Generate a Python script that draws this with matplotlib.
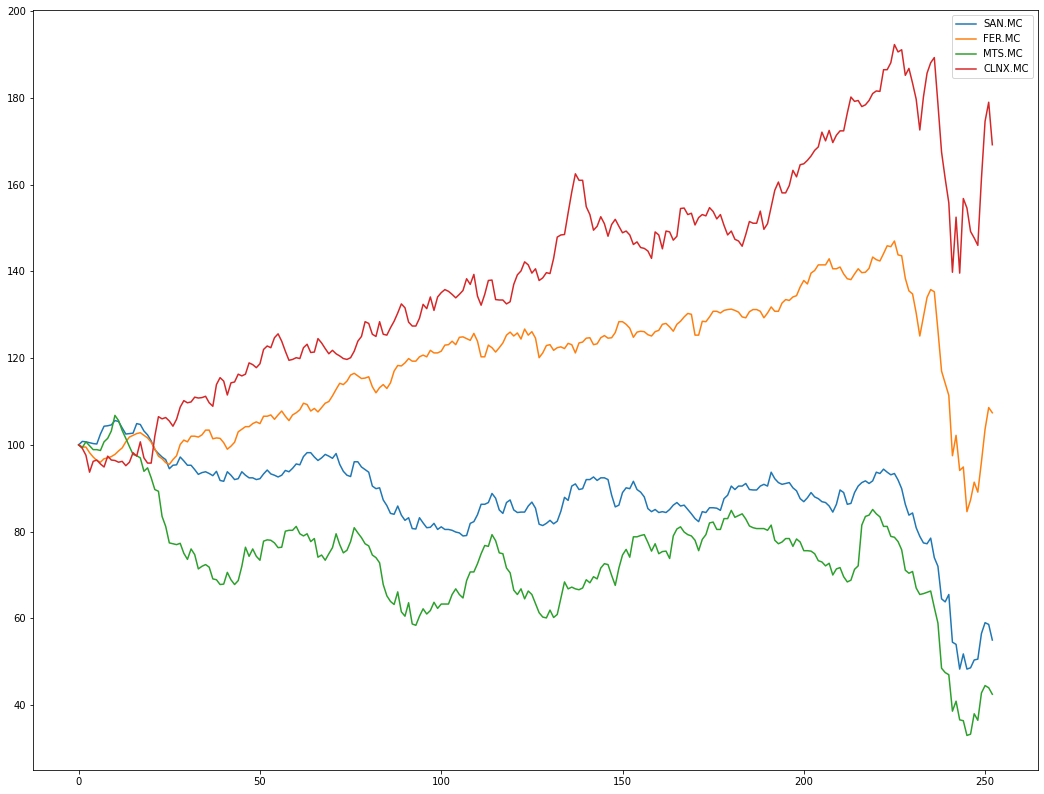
import numpy as np
import matplotlib
matplotlib.use("Agg")
import matplotlib.pyplot as plt

# =========================
# Data (normalised prices, base 100)
# =========================
san = [
    100.0, 100.8, 100.7, 100.5, 100.3, 100.2, 102.5, 104.3, 104.4, 104.6,
    105.6, 105.4, 103.9, 102.5, 102.6, 102.7, 104.9, 104.7, 103.2, 102.3,
    100.9, 98.9, 98.0, 97.2, 96.6, 94.5, 95.3, 95.4, 97.2, 96.3,
    95.3, 95.3, 94.3, 93.2, 93.6, 93.8, 93.4, 92.9, 93.9, 91.8,
    91.6, 93.8, 93.0, 92.0, 92.2, 93.8, 93.0, 92.4, 92.4, 92.0,
    92.2, 93.3, 94.2, 93.3, 93.0, 92.6, 93.0, 94.1, 93.8, 94.6,
    95.6, 95.4, 97.3, 98.2, 98.2, 97.2, 96.4, 97.0, 97.8, 97.4,
    96.9, 98.0, 95.5, 93.9, 93.0, 92.7, 96.1, 96.1, 94.9, 94.3,
    93.7, 90.5, 89.9, 90.1, 87.3, 86.0, 84.2, 84.0, 85.9, 83.8,
    82.6, 83.2, 80.7, 80.6, 83.2, 82.0, 80.9, 81.0, 81.9, 80.5,
    81.1, 80.5, 80.5, 80.3, 79.9, 79.7, 79.0, 79.1, 81.9, 82.3,
    83.9, 86.3, 86.3, 86.7, 88.8, 87.7, 85.0, 84.2, 86.7, 87.3,
    85.0, 84.4, 84.5, 84.5, 85.9, 86.8, 85.4, 81.7, 81.4, 81.9,
    82.6, 81.8, 82.4, 84.7, 87.9, 87.2, 90.5, 91.0, 89.7, 89.9,
    92.0, 92.0, 92.6, 91.8, 92.4, 92.4, 92.0, 88.4, 85.7, 86.1,
    89.0, 90.1, 89.9, 91.6, 89.7, 89.1, 88.0, 85.3, 84.6, 85.1,
    84.4, 84.6, 84.4, 85.1, 86.1, 86.7, 85.9, 86.1, 85.1, 84.1,
    83.0, 82.3, 84.6, 84.4, 85.5, 85.5, 85.4, 84.9, 87.6, 88.4,
    90.5, 89.7, 90.5, 90.5, 91.1, 89.7, 89.6, 89.6, 90.5, 90.9,
    90.5, 93.7, 92.2, 91.3, 90.9, 91.1, 91.3, 90.1, 89.4, 87.6,
    86.9, 87.8, 89.0, 88.0, 87.6, 86.9, 86.7, 85.9, 84.5, 86.3,
    89.6, 89.0, 86.3, 86.5, 89.0, 90.5, 91.3, 91.7, 91.1, 91.7,
    93.7, 93.4, 94.4, 93.7, 93.1, 93.4, 91.9, 89.9, 86.3, 83.8,
    84.3, 80.9, 78.9, 77.4, 77.2, 78.5, 74.0, 72.0, 64.5, 63.8,
    65.5, 54.5, 54.0, 48.3, 51.8, 48.3, 48.6, 50.4, 50.6, 56.5,
    59.0, 58.6, 55.0,
]

fer = [
    100.0, 99.5, 99.5, 98.2, 97.2, 96.4, 96.0, 96.8, 97.0, 97.3,
    97.8, 98.6, 99.3, 100.7, 101.8, 102.2, 102.6, 102.8, 102.2, 101.6,
    100.6, 99.1, 97.4, 96.8, 95.9, 95.5, 96.6, 97.5, 100.1, 101.1,
    100.7, 102.0, 102.0, 101.8, 102.3, 103.4, 103.4, 101.4, 101.6, 101.5,
    100.5, 99.0, 99.7, 100.6, 103.0, 103.6, 104.2, 104.2, 104.9, 105.3,
    104.9, 106.6, 106.6, 106.9, 105.9, 106.9, 107.8, 106.6, 105.6, 106.9,
    107.4, 108.1, 109.6, 109.3, 107.8, 108.4, 107.6, 108.6, 109.6, 110.0,
    111.3, 112.8, 114.2, 113.9, 114.7, 116.1, 116.5, 115.9, 115.3, 115.4,
    115.7, 113.4, 112.0, 113.2, 113.9, 113.0, 114.3, 117.0, 118.3, 118.2,
    118.9, 119.9, 119.3, 119.3, 120.3, 120.7, 120.3, 121.8, 121.2, 121.2,
    121.6, 123.0, 123.1, 123.9, 123.1, 124.8, 124.9, 124.5, 124.1, 125.7,
    123.9, 120.3, 120.3, 123.0, 122.4, 121.4, 122.4, 123.5, 125.3, 126.0,
    125.1, 125.8, 124.4, 126.7, 125.3, 126.1, 124.6, 120.1, 121.2, 122.9,
    123.1, 121.8, 122.4, 122.6, 122.2, 123.4, 123.1, 121.2, 123.5, 123.7,
    124.6, 124.7, 123.1, 123.3, 124.7, 125.2, 124.6, 124.7, 125.9, 128.4,
    128.4, 127.8, 126.9, 124.8, 126.0, 126.2, 126.1, 125.4, 125.1, 126.1,
    126.4, 127.8, 128.0, 127.2, 126.2, 127.8, 128.5, 129.5, 130.3, 130.1,
    125.3, 125.3, 128.5, 128.4, 129.5, 130.8, 130.8, 130.4, 131.0, 131.2,
    131.3, 131.0, 130.6, 129.5, 129.3, 130.7, 131.2, 131.2, 130.8, 129.3,
    130.4, 131.8, 130.8, 130.8, 132.7, 133.5, 133.3, 134.1, 134.4, 136.4,
    137.9, 137.1, 139.6, 140.2, 141.5, 141.5, 141.5, 142.9, 140.6, 140.6,
    141.0, 139.4, 138.3, 138.1, 139.4, 140.6, 139.7, 139.8, 140.7, 143.3,
    142.7, 142.4, 144.1, 145.9, 145.7, 147.0, 143.8, 143.6, 138.4, 135.5,
    134.8, 130.4, 125.1, 129.6, 134.0, 135.8, 135.3, 126.4, 117.0, 114.2,
    111.4, 97.5, 102.2, 94.1, 94.9, 84.6, 87.3, 91.4, 89.1, 96.1,
    103.6, 108.6, 107.4,
]

mts = [
    100.0, 99.4, 100.7, 99.8, 98.9, 98.9, 98.7, 100.7, 101.5, 103.2,
    106.8, 105.6, 103.3, 101.5, 99.6, 97.8, 97.5, 97.0, 93.9, 94.7,
    92.4, 89.7, 89.3, 83.5, 81.2, 77.4, 77.2, 77.0, 77.3, 75.0,
    73.6, 76.0, 74.7, 71.4, 72.0, 72.4, 71.8, 69.1, 68.9, 67.8,
    67.9, 70.6, 68.9, 67.8, 68.7, 72.0, 76.4, 74.3, 76.0, 74.3,
    73.4, 77.8, 78.1, 78.0, 77.4, 76.3, 76.4, 80.1, 80.3, 80.3,
    81.2, 79.5, 79.0, 79.5, 77.7, 78.4, 74.1, 74.6, 73.4, 74.9,
    76.3, 79.5, 77.0, 75.1, 75.7, 77.7, 80.9, 79.7, 78.6, 77.2,
    76.7, 74.6, 74.0, 72.8, 67.8, 65.2, 63.9, 63.2, 66.1, 61.5,
    60.5, 63.6, 58.7, 58.4, 60.5, 62.2, 61.0, 61.8, 63.7, 62.3,
    63.3, 63.3, 63.3, 65.5, 66.8, 65.5, 64.7, 68.7, 70.7, 70.7,
    72.6, 74.9, 76.8, 76.6, 79.3, 77.9, 75.1, 74.9, 71.6, 70.5,
    66.5, 65.5, 66.8, 64.5, 66.3, 65.5, 63.4, 61.3, 60.3, 60.1,
    61.9, 60.2, 60.9, 64.7, 68.4, 66.8, 67.2, 66.8, 66.6, 67.0,
    68.9, 68.2, 69.6, 69.1, 71.6, 72.6, 72.4, 69.9, 67.6, 71.6,
    74.6, 75.9, 74.1, 78.8, 78.8, 79.1, 79.3, 77.5, 75.5, 77.2,
    74.9, 75.4, 75.5, 73.8, 79.0, 80.6, 81.1, 79.9, 79.3, 79.0,
    78.0, 75.6, 78.2, 79.3, 82.0, 82.2, 80.5, 80.5, 83.0, 83.0,
    84.9, 83.3, 83.7, 84.1, 82.9, 81.3, 80.9, 80.7, 80.7, 80.7,
    80.3, 81.5, 78.0, 77.2, 77.6, 78.4, 78.4, 76.6, 78.3, 77.6,
    75.6, 75.6, 75.5, 74.9, 73.3, 73.0, 72.1, 72.7, 70.0, 71.4,
    71.7, 69.6, 68.4, 68.8, 71.3, 72.1, 81.5, 83.5, 83.8, 85.1,
    84.1, 83.4, 81.2, 81.2, 78.9, 78.7, 77.7, 75.8, 71.1, 70.4,
    70.8, 67.0, 65.5, 65.7, 66.0, 66.3, 62.5, 58.9, 48.5, 47.5,
    47.0, 38.6, 40.9, 36.6, 36.4, 33.0, 33.3, 38.0, 36.5, 42.8,
    44.5, 44.0, 42.5,
]

clnx = [
    100.0, 99.2, 97.6, 93.7, 96.2, 96.5, 95.6, 94.9, 97.4, 96.5,
    96.4, 96.0, 96.2, 95.2, 96.0, 98.2, 97.4, 100.7, 97.0, 95.8,
    95.8, 102.0, 106.5, 106.0, 106.3, 105.5, 104.3, 105.9, 108.7, 110.2,
    109.7, 109.9, 111.0, 110.8, 110.9, 111.2, 109.7, 108.9, 113.9, 115.5,
    114.7, 111.5, 114.3, 114.5, 116.3, 115.9, 116.3, 118.9, 118.5, 117.8,
    118.7, 122.0, 122.8, 122.4, 124.7, 125.6, 123.9, 121.6, 119.5, 119.7,
    120.1, 119.9, 122.4, 123.2, 121.3, 121.4, 124.5, 123.5, 122.2, 121.0,
    121.8, 121.0, 120.5, 119.9, 119.7, 120.1, 121.6, 123.9, 125.0, 128.4,
    128.0, 125.5, 125.0, 128.4, 125.5, 125.3, 127.0, 128.5, 130.4, 132.5,
    131.6, 128.3, 127.4, 127.4, 129.2, 132.4, 131.4, 134.1, 131.0, 134.1,
    135.1, 135.8, 135.4, 134.7, 133.9, 134.7, 135.6, 138.3, 137.0, 139.3,
    134.3, 132.2, 134.7, 137.9, 138.0, 133.5, 133.4, 133.4, 132.5, 133.0,
    137.0, 139.2, 140.1, 142.2, 141.5, 139.6, 140.6, 137.9, 138.5, 139.7,
    139.5, 143.0, 147.9, 148.4, 148.5, 153.5, 158.3, 162.5, 161.0, 161.0,
    154.9, 153.1, 149.5, 150.4, 152.6, 151.0, 148.1, 150.8, 152.0, 150.4,
    148.9, 149.3, 148.4, 146.2, 146.8, 145.5, 145.3, 144.7, 143.0, 149.1,
    148.4, 145.2, 149.3, 149.1, 147.2, 148.1, 154.5, 154.6, 153.1, 153.4,
    150.7, 152.4, 153.1, 152.8, 154.7, 153.8, 152.1, 153.1, 150.6, 148.4,
    149.3, 147.4, 147.0, 145.8, 148.5, 151.5, 151.1, 151.1, 153.9, 149.7,
    151.0, 154.8, 158.7, 160.6, 158.1, 158.1, 159.8, 163.3, 161.8, 164.6,
    164.8, 165.6, 166.6, 167.9, 168.7, 172.1, 170.1, 172.5, 169.7, 171.4,
    172.4, 172.4, 176.5, 180.2, 179.2, 179.4, 178.0, 178.4, 179.4, 181.0,
    181.6, 181.5, 186.5, 186.5, 188.1, 192.3, 190.6, 191.1, 185.2, 186.8,
    183.4, 179.7, 172.6, 180.2, 185.7, 188.1, 189.3, 178.6, 167.5, 161.4,
    155.8, 139.8, 152.5, 139.6, 156.8, 154.6, 149.2, 147.7, 146.0, 161.4,
    174.6, 179.0, 169.2,
]

tickers = ["SAN.MC", "FER.MC", "MTS.MC", "CLNX.MC"]
series = [san, fer, mts, clnx]

# =========================
# Plot
# =========================
fig = plt.figure(figsize=(1044 / 72, 794 / 72), dpi=72)
ax = fig.add_axes([33 / 1044, 24 / 794, 1005 / 1044, 760 / 794])

for name, values in zip(tickers, series):
    ax.plot(np.arange(len(values)), values, label=name, linewidth=1.5)

ax.legend(loc="upper right")

fig.savefig("out.png", dpi=72)
